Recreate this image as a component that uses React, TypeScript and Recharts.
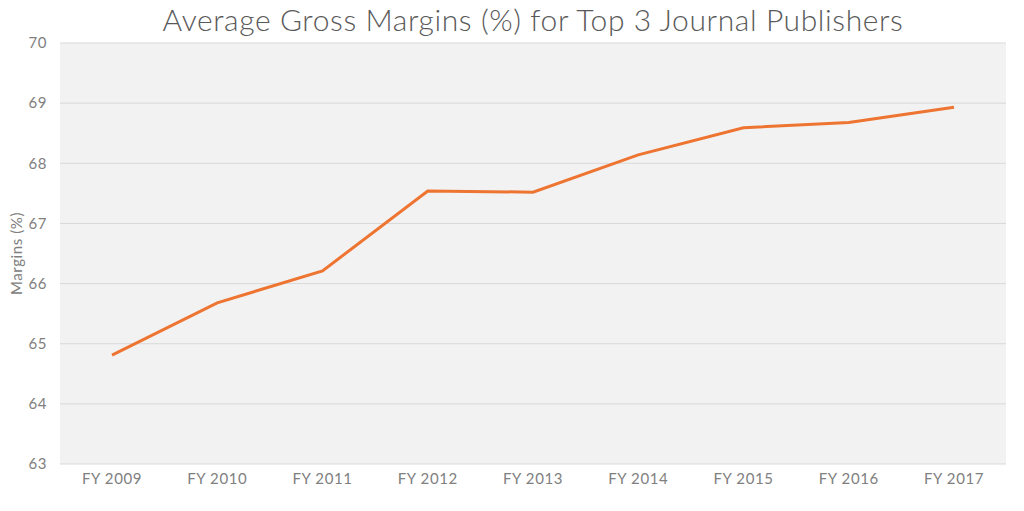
import React from "react";
import {
  LineChart,
  Line,
  XAxis,
  YAxis,
  CartesianGrid,
} from "recharts";

const years = [
  "FY 2009",
  "FY 2010",
  "FY 2011",
  "FY 2012",
  "FY 2013",
  "FY 2014",
  "FY 2015",
  "FY 2016",
  "FY 2017",
];
const margins = [64.81, 65.68, 66.21, 67.54, 67.52, 68.14, 68.59, 68.68, 68.93];
const yTicks = [63, 64, 65, 66, 67, 68, 69, 70];

const data = years.map((year, i) => ({ year, margin: margins[i] }));

const font = "Lato, 'Open Sans', sans-serif";
const tickStyle = { fontSize: 15, fill: "#808080", fontFamily: font, letterSpacing: 0.6 };

export default function App() {
  return (
    <div
      style={{
        position: "absolute",
        left: 0,
        top: 0,
        width: 1024,
        height: 511,
        background: "#fff",
        fontFamily: font,
      }}
    >
      <div
        style={{
          position: "absolute",
          left: 60,
          width: 946,
          top: 1,
          textAlign: "center",
          fontSize: 30,
          fontWeight: 300,
          color: "#595959",
          letterSpacing: 0.6,
        }}
      >
        Average Gross Margins (%) for Top 3 Journal Publishers
      </div>
      <LineChart
        width={1024}
        height={511}
        data={data}
        margin={{ top: 43, right: 18, bottom: 17, left: 10 }}
      >
        <CartesianGrid
          vertical={false}
          stroke="#d9d9d9"
          fill="#f2f2f2"
          strokeWidth={1}
        />
        <XAxis
          dataKey="year"
          height={30}
          axisLine={false}
          tickLine={false}
          tickSize={0}
          tickMargin={9}
          interval={0}
          padding={{ left: 52, right: 52 }}
          tick={tickStyle}
        />
        <YAxis
          width={50}
          domain={[63, 70]}
          ticks={yTicks}
          axisLine={false}
          tickLine={false}
          tickSize={0}
          tickMargin={13}
          tick={tickStyle}
          label={{
            value: "Margins (%)",
            angle: -90,
            position: "insideLeft",
            offset: 0,
            dx: 7,
            style: {
              fontSize: 15,
              fill: "#808080",
              fontFamily: font,
              textAnchor: "middle",
              letterSpacing: 0.6,
            },
          }}
        />
        <Line
          type="linear"
          dataKey="margin"
          stroke="#ee7431"
          strokeWidth={3}
          dot={false}
          isAnimationActive={false}
        />
      </LineChart>
    </div>
  );
}
